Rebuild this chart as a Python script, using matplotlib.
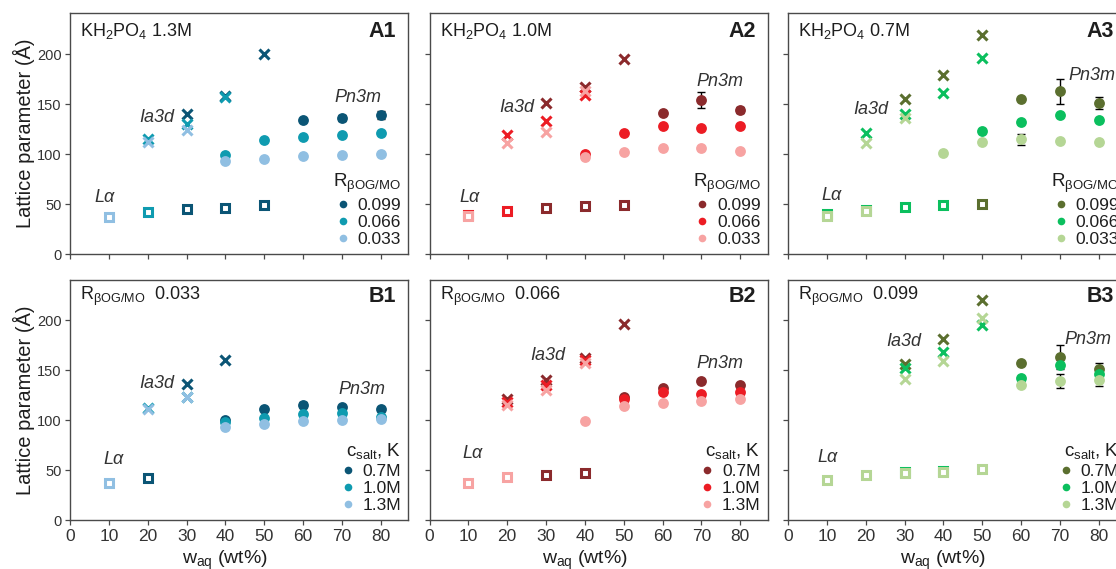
import numpy as np
import matplotlib
matplotlib.use("Agg")
import matplotlib.pyplot as plt
from matplotlib.lines import Line2D

plt.rcParams['font.family'] = ['Liberation Sans', 'DejaVu Sans']
plt.rcParams['mathtext.fontset'] = 'custom'
plt.rcParams['mathtext.rm'] = 'Liberation Sans'
plt.rcParams['mathtext.it'] = 'Liberation Sans:italic'

nan = np.nan
wt = [10, 20, 30, 40, 50, 60, 70, 80]
x_ticks = [0, 10, 20, 30, 40, 50, 60, 70, 80]
y_ticks = [0, 50, 100, 150, 200]

ratio_labels = ['0.099', '0.066', '0.033']
salt_labels = ['0.7M', '1.0M', '1.3M']

blue = ['#0b5575', '#0f9bb0', '#90bfe2']
red = ['#8b2a2c', '#ec1c24', '#f7a3a2']
green = ['#5b6f2f', '#0bbf5e', '#b5d695']

# ---- A1: KH2PO4 1.3M (series R = 0.099, 0.066, 0.033)
A1_lam = [[nan, nan, 45, 46.5, 49, nan, nan, nan],
          [nan, 42.5, nan, nan, nan, nan, nan, nan],
          [37.5, nan, nan, nan, nan, nan, nan, nan]]
A1_ia3d = [[nan, nan, 140, 158, 200.5, nan, nan, nan],
           [nan, 115.5, 130.5, 157.5, nan, nan, nan, nan],
           [nan, 112.5, 124, nan, nan, nan, nan, nan]]
A1_pn3m = [[nan, nan, nan, nan, nan, 134, 136.5, 139],
           [nan, nan, nan, 99.5, 114, 117.5, 119.5, 121],
           [nan, nan, nan, 93, 95, 98.5, 99, 100]]
A1_err = [[0, 0, 0, 0, 0, 0, 3, 4],
          [0, 0, 0, 0, 0, 0, 0, 0],
          [0, 0, 0, 0, 0, 0, 0, 0]]

# ---- A2: KH2PO4 1.0M
A2_lam = [[nan, nan, 46.5, 48, 49.5, nan, nan, nan],
          [39.5, 43.5, nan, nan, nan, nan, nan, nan],
          [38, nan, nan, nan, nan, nan, nan, nan]]
A2_ia3d = [[nan, nan, 151.5, 167.5, 195, nan, nan, nan],
           [nan, 119, 133.5, 159, nan, nan, nan, nan],
           [nan, 111, 122.5, 163, nan, nan, nan, nan]]
A2_pn3m = [[nan, nan, nan, nan, nan, 141.5, 154, 144.5],
           [nan, nan, nan, 100, 121.5, 128.5, 126.5, 128.5],
           [nan, nan, nan, 97, 102, 106, 106, 103.5]]
A2_err = [[0, 0, 0, 0, 0, 0, 8, 3],
          [0, 0, 0, 0, 0, 0, 0, 0],
          [0, 0, 0, 0, 0, 0, 0, 0]]

# ---- A3: KH2PO4 0.7M
A3_lam = [[nan, nan, nan, nan, 50.5, nan, nan, nan],
          [40, 44, 47.5, 49, nan, nan, nan, nan],
          [38.5, 43, nan, nan, nan, nan, nan, nan]]
A3_ia3d = [[nan, nan, 155, 179.5, 219, nan, nan, nan],
           [nan, 121.5, 140, 161.5, 196.5, nan, nan, nan],
           [nan, 111, 136, nan, nan, nan, nan, nan]]
A3_pn3m = [[nan, nan, nan, nan, nan, 155.5, 163, 151.5],
           [nan, nan, nan, nan, 123.5, 132.5, 139, 134.5],
           [nan, nan, nan, 101, 112, 115, 113, 112]]
A3_err = [[0, 0, 0, 0, 0, 0, 12.5, 6],
          [0, 0, 0, 0, 0, 0, 0, 0],
          [0, 0, 0, 0, 0, 5.5, 0, 0]]

# ---- B1: R = 0.033 (series c_salt = 0.7M, 1.0M, 1.3M)
B1_lam = [[nan, 42.5, nan, nan, nan, nan, nan, nan],
          [nan, nan, nan, nan, nan, nan, nan, nan],
          [37.5, nan, nan, nan, nan, nan, nan, nan]]
B1_ia3d = [[nan, nan, 136, 160.5, nan, nan, nan, nan],
           [nan, 112, 123.5, nan, nan, nan, nan, nan],
           [nan, 111.5, 123, nan, nan, nan, nan, nan]]
B1_pn3m = [[nan, nan, nan, 100.5, 111.5, 115.5, 113, 111.5],
           [nan, nan, nan, 98, 102.5, 106.5, 107, 103.5],
           [nan, nan, nan, 93.5, 96, 99, 100, 101]]
B1_err = [[0, 0, 0, 0, 0, 3, 0, 0],
          [0, 0, 0, 0, 0, 0, 0, 0],
          [0, 0, 0, 0, 0, 0, 0, 0]]

# ---- B2: R = 0.066
B2_lam = [[nan, nan, 45.5, 47.5, nan, nan, nan, nan],
          [nan, nan, nan, nan, nan, nan, nan, nan],
          [37.5, 43.5, nan, nan, nan, nan, nan, nan]]
B2_ia3d = [[nan, 121.5, 140, 162.5, 196, nan, nan, nan],
           [nan, 118, 135, 160, nan, nan, nan, nan],
           [nan, 115.5, 130, 157.5, nan, nan, nan, nan]]
B2_pn3m = [[nan, nan, nan, nan, 123.5, 132, 139, 135],
           [nan, nan, nan, nan, 121.5, 128, 126.5, 128.5],
           [nan, nan, nan, 99.5, 114, 117.5, 119.5, 121]]
B2_err = [[0, 0, 0, 0, 0, 0, 0, 0],
          [0, 0, 0, 0, 0, 0, 0, 0],
          [0, 0, 0, 0, 0, 0, 0, 0]]

# ---- B3: R = 0.099
B3_lam = [[nan, nan, nan, nan, nan, nan, nan, nan],
          [nan, nan, 48.5, 49, nan, nan, nan, nan],
          [40, 45, 47.5, 48, 51, nan, nan, nan]]
B3_ia3d = [[nan, nan, 156.5, 181, 220, nan, nan, nan],
           [nan, nan, 152, 168.5, 195, nan, nan, nan],
           [nan, nan, 141, 159, 202.5, nan, nan, nan]]
B3_pn3m = [[nan, nan, nan, nan, nan, 157.5, 163.5, 151.5],
           [nan, nan, nan, nan, nan, 142.5, 155, 146.5],
           [nan, nan, nan, nan, nan, 135, 139, 140.5]]
B3_err = [[0, 0, 0, 0, 0, 0, 12, 6],
          [0, 0, 0, 0, 0, 0, 0, 0],
          [0, 0, 0, 0, 0, 0, 7, 6]]

panels = [
    dict(tag='A1', title=r'KH$_{\rm 2}$PO$_{\rm 4}$ 1.3M', lam=A1_lam, ia=A1_ia3d, pn=A1_pn3m, err=A1_err,
         colors=blue, labels=ratio_labels, ltitle=r'R$_{\rm \beta OG/MO}$', row=0, col=0,
         ph=[(9.0, 56), (22.4, 136), (74.1, 156)]),
    dict(tag='A2', title=r'KH$_{\rm 2}$PO$_{\rm 4}$ 1.0M', lam=A2_lam, ia=A2_ia3d, pn=A2_pn3m, err=A2_err,
         colors=red, labels=ratio_labels, ltitle=r'R$_{\rm \beta OG/MO}$', row=0, col=1,
         ph=[(10.2, 56), (22.5, 147), (74.8, 172)]),
    dict(tag='A3', title=r'KH$_{\rm 2}$PO$_{\rm 4}$ 0.7M', lam=A3_lam, ia=A3_ia3d, pn=A3_pn3m, err=A3_err,
         colors=green, labels=ratio_labels, ltitle=r'R$_{\rm \beta OG/MO}$', row=0, col=2,
         ph=[(11.3, 58), (21.4, 145), (78.2, 179)]),
    dict(tag='B1', title=r'R$_{\rm \beta OG/MO}$  0.033', lam=B1_lam, ia=B1_ia3d, pn=B1_pn3m, err=B1_err,
         colors=blue, labels=salt_labels, ltitle=r'c$_{\rm salt}$, K', row=1, col=0,
         ph=[(11.1, 60), (22.4, 136), (75.1, 130)]),
    dict(tag='B2', title=r'R$_{\rm \beta OG/MO}$  0.066', lam=B2_lam, ia=B2_ia3d, pn=B2_pn3m, err=B2_err,
         colors=red, labels=salt_labels, ltitle=r'c$_{\rm salt}$, K', row=1, col=1,
         ph=[(11.2, 67), (30.5, 164), (74.8, 156)]),
    dict(tag='B3', title=r'R$_{\rm \beta OG/MO}$  0.099', lam=B3_lam, ia=B3_ia3d, pn=B3_pn3m, err=B3_err,
         colors=green, labels=salt_labels, ltitle=r'c$_{\rm salt}$, K', row=1, col=2,
         ph=[(10.3, 63), (29.9, 178), (77.2, 181)]),
]

W, H = 1116, 569
fig = plt.figure(figsize=(W / 100, H / 100), dpi=100)

col_left = [70, 429.5, 788]
ax_w = 338
row_bottom = [H - 254, H - 520]
row_h = [241, 240]
spine_c = '#4a4a4a'
txt_c = '#1e1e1e'

for p in panels:
    r, c = p['row'], p['col']
    ax = fig.add_axes([col_left[c] / W, row_bottom[r] / H, ax_w / W, row_h[r] / H])
    ax.set_xlim(0, 87)
    ax.set_ylim(0, row_h[r])
    for s in ax.spines.values():
        s.set_color(spine_c)
        s.set_linewidth(1.0)
    ax.set_xticks(x_ticks)
    ax.set_yticks(y_ticks)
    ax.tick_params(direction='out', length=3.5, width=0.9, color=spine_c,
                   labelcolor='#333333')
    ax.tick_params(axis='x', labelsize=12.5, pad=3)
    ax.tick_params(axis='y', labelsize=10.5, pad=2.5)
    if r == 0:
        ax.set_xticklabels([])
    if c != 0:
        ax.set_yticklabels([])

    x = np.array(wt, dtype=float)
    for i in range(3):
        col = p['colors'][i]
        ax.plot(x, p['lam'][i], ls='none', marker='s', ms=6.0, mew=2.2,
                mfc='white', mec=col, zorder=3)
        ax.plot(x, p['ia'][i], ls='none', marker='x', ms=7.2, mew=2.2,
                color=col, zorder=3)
        yv = np.array(p['pn'][i], dtype=float)
        ev = np.array(p['err'][i], dtype=float)
        m = ev > 0
        if m.any():
            ax.errorbar(x[m], yv[m], yerr=ev[m], fmt='none', ecolor='black',
                        elinewidth=1.0, capsize=3, capthick=1.0, zorder=2)
        ax.plot(x, yv, ls='none', marker='o', ms=7.8, mew=0, color=col, zorder=4)

    for (px, py), name in zip(p['ph'], ['Lα', 'Ia3d', 'Pn3m']):
        ax.text(px, py, name, style='italic', fontsize=13, color='#333333',
                ha='center', va='center', zorder=5)

    ax.text(0.03, 0.905 if r == 0 else 0.915, p['title'], transform=ax.transAxes,
            fontsize=13, color=txt_c, ha='left', va='baseline')
    ax.text(0.965, 0.90 if r == 0 else 0.91, p['tag'], transform=ax.transAxes,
            fontsize=15.5, fontweight='bold', color=txt_c, ha='right', va='baseline')

    handles = [Line2D([], [], ls='none', marker='o', ms=5.5, mew=0, color=cc)
               for cc in p['colors']]
    leg = ax.legend(handles, p['labels'], title=p['ltitle'], loc='lower right',
                    frameon=False, alignment='right', fontsize=12.5,
                    title_fontsize=13.5, handlelength=0.8, handletextpad=0.45,
                    labelspacing=0.12, borderaxespad=0.2, borderpad=0.2)
    for t in leg.get_texts():
        t.set_color(txt_c)
    leg.get_title().set_color(txt_c)

    if r == 1:
        ax.set_xlabel(r'w$_{\rm aq}$ (wt%)', fontsize=14, color=txt_c)
        ax.xaxis.set_label_coords(40 / 87, -0.118)
        ax.xaxis.label.set_va('top')

for r in range(2):
    yc = (row_bottom[r] + row_h[r] / 2) / H
    fig.text(24 / W, yc, 'Lattice parameter (Å)', rotation=90, fontsize=14.5,
             color=txt_c, ha='center', va='center')

fig.savefig('out.png', dpi=100)
